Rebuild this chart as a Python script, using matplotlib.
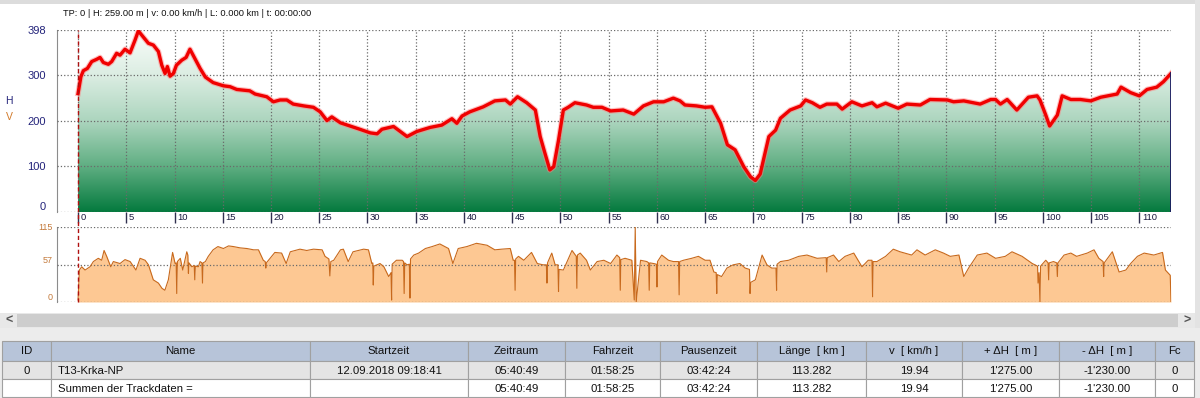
import numpy as np
import matplotlib
matplotlib.use("Agg")
from matplotlib import pyplot as plt
from matplotlib.colors import LinearSegmentedColormap
from matplotlib.patches import Rectangle, Polygon
from matplotlib.lines import Line2D
import matplotlib.transforms as mtransforms

plt.rcParams['font.family'] = ['Liberation Sans', 'DejaVu Sans']

# Hoehenprofil (km / m)
elev_km = [0, 0.3, 0.55, 0.97, 1.42, 1.94, 2.28, 2.62, 3.14, 3.49,
           4.0, 4.35, 4.87, 5.39, 5.91, 6.25, 6.6, 7.29, 7.81, 8.33,
           8.68, 9.02, 9.26, 9.54, 9.88, 10.2, 10.75, 11.2, 11.6, 12.1,
           12.65, 13.2, 14.0, 15.07, 15.76, 16.45, 17.8, 18.35, 19.56, 20.25,
           20.94, 21.64, 22.3, 23.4, 24.4, 25.1, 25.8, 26.3, 27.2, 28.2,
           29.2, 30.3, 31.0, 31.5, 32.7, 33.4, 34.1, 35.1, 36.5, 37.7,
           38.75, 39.26, 39.8, 40.6, 42.0, 43.2, 44.3, 44.8, 45.55, 46.5,
           47.4, 47.9, 48.4, 48.9, 49.3, 49.8, 50.3, 50.8, 51.5, 52.7,
           53.4, 54.3, 55.2, 56.5, 57.6, 58.6, 59.65, 60.7, 61.7, 62.4,
           62.9, 64.1, 65.0, 65.7, 66.6, 67.3, 68.1, 69.0, 69.7, 70.2,
           70.7, 71.2, 71.6, 72.3, 72.8, 73.8, 74.9, 75.4, 76.1, 76.9,
           77.6, 78.65, 79.2, 80.2, 81.25, 82.3, 82.8, 83.7, 85.0, 85.9,
           87.3, 88.3, 90.1, 90.75, 91.8, 93.5, 94.6, 95.1, 95.6, 96.3,
           97.3, 98.5, 99.4, 99.7, 100.3, 100.7, 101.5, 102.0, 102.9, 103.9,
           104.97, 106.0, 107.7, 108.1, 109.1, 110.0, 110.8, 111.8, 112.5, 113.28]
elev_h = [259, 296, 309, 314, 329, 334, 338, 327, 323, 329,
          347, 343, 356, 348, 376, 396, 387, 369, 365, 351,
          321, 303, 318, 297, 303, 321, 332, 338, 356, 336,
          314, 295, 283, 276, 274, 268, 265, 258, 252, 241,
          245, 245, 236, 232, 229, 219, 200, 208, 195, 188,
          181, 173, 171, 181, 187, 176, 165, 176, 185, 190,
          204, 194, 210, 219, 230, 243, 245, 236, 252, 239,
          223, 165, 128, 92, 99, 157, 223, 229, 239, 234,
          229, 229, 221, 223, 214, 232, 241, 241, 249, 243,
          234, 232, 229, 230, 194, 147, 136, 99, 77, 69,
          83, 128, 165, 179, 205, 223, 232, 245, 239, 229,
          236, 236, 225, 241, 232, 239, 230, 238, 227, 236,
          234, 246, 245, 241, 243, 236, 246, 246, 236, 246,
          223, 251, 254, 245, 212, 188, 212, 254, 246, 246,
          243, 251, 258, 273, 261, 254, 268, 273, 285, 303]

# Geschwindigkeit (km / km/h)
spd_km = [0.0, 0.14, 0.38, 0.73, 1.24, 1.59, 2.1, 2.45, 2.7, 2.97,
          3.39, 3.66, 4.35, 4.87, 5.4, 6.0, 6.43, 6.95, 7.3, 7.8,
          8.33, 8.7, 9.0, 9.36, 9.8, 10.06, 10.17, 10.23, 10.3, 10.6,
          10.85, 11.27, 11.38, 11.44, 11.5, 11.8, 12.04, 12.1, 12.16, 12.47,
          12.65, 12.84, 12.9, 12.96, 13.2, 13.5, 14.0, 14.5, 15.07, 15.6,
          16.1, 16.8, 17.5, 18.2, 18.7, 19.2, 19.4, 19.46, 19.52, 19.9,
          20.4, 21.1, 21.57, 22.0, 23.0, 23.7, 24.4, 25.3, 25.6, 26.0,
          26.1, 26.2, 26.5, 27.2, 27.5, 28.0, 28.5, 29.6, 30.1, 30.45,
          30.55, 30.6, 30.66, 30.97, 31.3, 31.7, 32.2, 32.44, 32.5, 32.56,
          33.0, 33.6, 33.74, 33.8, 33.86, 34.1, 34.34, 34.4, 34.46, 34.8,
          35.3, 36.0, 36.7, 37.5, 38.4, 38.85, 39.4, 40.3, 41.3, 42.4,
          43.2, 43.9, 44.8, 45.1, 45.24, 45.3, 45.36, 45.65, 46.2, 47.0,
          47.6, 48.2, 48.54, 48.6, 48.66, 49.1, 49.45, 49.74, 49.8, 49.86,
          50.3, 51.2, 51.64, 51.7, 51.76, 52.05, 52.7, 53.1, 53.8, 54.5,
          55.2, 55.85, 56.14, 56.2, 56.26, 56.7, 57.4, 57.65, 57.75, 57.85,
          58.3, 58.96, 59.14, 59.2, 59.26, 59.65, 59.94, 60.0, 60.06, 60.5,
          61.2, 61.7, 62.24, 62.3, 62.36, 62.75, 63.6, 64.3, 65.0, 65.5,
          65.9, 66.14, 66.2, 66.26, 66.7, 67.25, 67.9, 68.6, 69.15, 69.59,
          69.65, 69.71, 70.2, 70.9, 71.4, 71.9, 72.34, 72.4, 72.46, 72.8,
          73.65, 74.7, 75.55, 76.6, 77.54, 77.6, 77.66, 78.3, 78.85, 79.5,
          80.4, 81.25, 81.9, 82.29, 82.35, 82.41, 82.8, 83.7, 84.5, 85.2,
          86.4, 86.95, 87.8, 88.85, 89.7, 90.4, 91.3, 91.8, 92.3, 93.2,
          94.2, 95.1, 96.1, 96.8, 97.85, 98.9, 99.45, 99.5, 99.6, 99.7,
          99.76, 100.3, 100.54, 100.6, 100.66, 101.1, 101.44, 101.5, 101.56, 102.2,
          102.9, 103.5, 104.6, 105.3, 105.8, 106.24, 106.3, 106.36, 107.2, 107.9,
          108.6, 109.1, 109.8, 110.5, 111.5, 112.4, 112.7, 113.2, 113.28]
spd_v = [3, 49, 54, 49, 54, 62, 67, 64, 79, 70,
         54, 62, 59, 65, 62, 49, 67, 64, 57, 34,
         29, 21, 18, 34, 76, 59, 60, 13, 62, 67,
         49, 77, 72, 44, 60, 54, 56, 34, 55, 54,
         62, 60, 29, 60, 62, 70, 80, 85, 82, 86,
         85, 83, 82, 80, 80, 64, 62, 52, 60, 67,
         76, 75, 59, 77, 81, 79, 81, 80, 70, 66,
         40, 62, 64, 80, 81, 62, 77, 81, 80, 59,
         60, 26, 55, 57, 59, 54, 39, 45, 3, 58,
         64, 64, 62, 13, 60, 57, 58, 6, 66, 72,
         75, 82, 85, 89, 82, 59, 82, 85, 90, 87,
         80, 81, 82, 64, 64, 18, 66, 70, 64, 76,
         59, 57, 57, 29, 60, 75, 57, 57, 16, 50,
         49, 79, 70, 21, 72, 75, 64, 49, 62, 64,
         59, 72, 68, 18, 65, 67, 64, 3, 115, 0,
         64, 62, 60, 18, 60, 59, 58, 23, 62, 72,
         64, 62, 62, 11, 62, 64, 67, 70, 64, 64,
         46, 45, 13, 42, 39, 52, 57, 59, 52, 50,
         13, 30, 34, 72, 57, 52, 52, 18, 58, 62,
         64, 70, 72, 67, 68, 46, 68, 72, 62, 70,
         75, 54, 64, 64, 8, 62, 62, 70, 81, 77,
         72, 80, 72, 80, 75, 70, 72, 39, 52, 72,
         75, 67, 70, 77, 70, 59, 55, 29, 45, 0,
         55, 64, 60, 34, 60, 62, 60, 39, 60, 72,
         75, 70, 75, 80, 67, 62, 39, 60, 77, 46,
         49, 59, 70, 75, 72, 76, 49, 41, 0]

info_text = "TP: 0 | H: 259.00 m | v: 0.00 km/h | L: 0.000 km | t: 00:00:00"
h_ticks = [0, 100, 200, 300, 398]
v_ticks = [0, 57, 115]
km_ticks = list(range(0, 115, 5))

# Tabelle
columns = ["ID", "Name", "Startzeit", "Zeitraum", "Fahrzeit", "Pausenzeit",
           "Länge  [ km ]", "v  [ km/h ]", "+ ΔH  [ m ]", "- ΔH  [ m ]", "Fc"]
row_track = ["0", "T13-Krka-NP", "12.09.2018 09:18:41", "05:40:49", "01:58:25",
             "03:42:24", "113.282", "19.94", "1'275.00", "-1'230.00", "0"]
row_sum = ["", "Summen der Trackdaten =", "", "05:40:49", "01:58:25",
           "03:42:24", "113.282", "19.94", "1'275.00", "-1'230.00", "0"]

assert len(elev_km) == len(elev_h)
assert len(spd_km) == len(spd_v)

W, H = 1200, 398
fig = plt.figure(figsize=(W / 100, H / 100), dpi=100)
fig.patch.set_facecolor('white')

# Hintergrund / Fensterteile in Pixelkoordinaten
bg = fig.add_axes([0, 0, 1, 1], zorder=0)
bg.set_xlim(0, W)
bg.set_ylim(H, 0)
bg.axis('off')
bg.add_patch(Rectangle((0, 0), W, 4, color='#dcdcdc', lw=0))
bg.add_patch(Rectangle((1195, 0), 5, H, color='#e3e3e3', lw=0))
bg.add_patch(Rectangle((0, 313), 1195, 15, color='#e8e8e8', lw=0))
bg.add_patch(Rectangle((17, 314), 1161, 13, color='#cdcdcd', lw=0))
bg.text(9, 320.5, "<", ha='center', va='center', fontsize=9, color='#555555', fontweight='bold')
bg.text(1187, 320.5, ">", ha='center', va='center', fontsize=9, color='#555555', fontweight='bold')
bg.add_patch(Rectangle((0, 328), W, H - 328, color='#ececec', lw=0))

col_edges = [2, 51, 310, 468, 565, 660, 757, 866, 962, 1059, 1155, 1194]
row_edges = [341, 361, 379, 397]
row_colors = ['#b7c4d9', '#e4e4e4', '#ffffff']
for r, cells in enumerate([columns, row_track, row_sum]):
    y0, y1 = row_edges[r], row_edges[r + 1]
    for c, txt in enumerate(cells):
        x0, x1 = col_edges[c], col_edges[c + 1]
        bg.add_patch(Rectangle((x0, y0), x1 - x0, y1 - y0, facecolor=row_colors[r],
                               edgecolor='#a0a0a0', lw=0.8))
        if c == 1 and r > 0:
            bg.text(x0 + 7, (y0 + y1) / 2 + 0.5, txt, ha='left', va='center',
                    fontsize=8.2, color='#101010')
        else:
            bg.text((x0 + x1) / 2, (y0 + y1) / 2 + 0.5, txt, ha='center', va='center',
                    fontsize=8.2, color='#101010')

km_total = elev_km[-1]
x_left = -2.18

# Hoehenprofil
ax1 = fig.add_axes([57 / W, 186 / H, 1114 / W, 182 / H], zorder=2)
ax1.set_facecolor('none')
ax1.set_xlim(x_left, km_total)
ax1.set_ylim(0, 398)

cmap = LinearSegmentedColormap.from_list(
    'hoehe', [(0, '#047a3e'), (0.25, '#5fae82'), (0.5, '#acd5be'), (0.75, '#dbede2'), (1, '#fafdfb')])
grad = np.linspace(0, 1, 256).reshape(-1, 1)
im = ax1.imshow(grad, extent=[0, km_total, 0, 398], origin='lower', cmap=cmap,
                aspect='auto', zorder=1)
verts = [(0, 0)] + list(zip(elev_km, elev_h)) + [(km_total, 0)]
clip = Polygon(verts, closed=True, facecolor='none', edgecolor='none', transform=ax1.transData)
ax1.add_patch(clip)
im.set_clip_path(clip)

ax1.plot(elev_km, elev_h, color='#ff8080', lw=4.0, alpha=0.5, zorder=4, solid_joinstyle='round')
ax1.plot(elev_km, elev_h, color='#f00000', lw=2.4, zorder=5, solid_joinstyle='round')
ax1.plot([km_total, km_total], [0, elev_h[-1]], color='#1a1a60', lw=1.3, zorder=5)

ax1.set_xticks(km_ticks)
ax1.set_yticks(h_ticks)
ax1.grid(True, ls=':', color='#6a6a6a', lw=0.9)
ax1.set_axisbelow(False)
ax1.tick_params(axis='x', direction='out', length=8, width=1, color='#303050', labelbottom=False)
ax1.tick_params(axis='y', length=0, pad=8, labelsize=8, labelcolor='#23237a')
for lab in ax1.get_yticklabels():
    if lab.get_text() == '0':
        lab.set_va('bottom')
for s in ['top', 'right', 'bottom']:
    ax1.spines[s].set_visible(False)
ax1.spines['left'].set_color('#8c8c8c')

lab_trans = mtransforms.offset_copy(
    mtransforms.blended_transform_factory(ax1.transData, ax1.transAxes), fig=fig, x=2.5, y=-1.5, units='dots')
for k in km_ticks:
    ax1.text(k, 0, str(k), transform=lab_trans, ha='left', va='top', fontsize=6.8, color='#1a1a40')

# Geschwindigkeit
ax2 = fig.add_axes([57 / W, 96 / H, 1114 / W, 75 / H], zorder=2)
ax2.set_facecolor('none')
ax2.set_xlim(x_left, km_total)
ax2.set_ylim(0, 115)
ax2.fill_between(spd_km, spd_v, 0, color='#fdc893', lw=0, zorder=1)
ax2.plot(spd_km, spd_v, color='#c8691c', lw=0.8, zorder=4)
ax2.set_xticks([])
ax2.set_yticks(v_ticks)
ax2.grid(True, axis='y', ls=':', color='#6a6a6a', lw=0.9)
ax2.set_axisbelow(False)
ax2.tick_params(axis='y', length=0, pad=3, labelsize=6.5, labelcolor='#c47a3c')
for lab in ax2.get_yticklabels():
    if lab.get_text() in ('0', '57'):
        lab.set_va('bottom')
for s in ['top', 'right', 'bottom']:
    ax2.spines[s].set_visible(False)
ax2.spines['left'].set_color('#8c8c8c')

# rote Positionsmarke bei km 0
p1 = ax1.get_position()
p2 = ax2.get_position()
mark_trans = mtransforms.blended_transform_factory(ax1.transData, fig.transFigure)
fig.add_artist(Line2D([0, 0], [p2.y0, p1.y1], transform=mark_trans, color='#b01010',
                      ls=(0, (3, 2)), lw=1.0, zorder=6))

fig.text(9 / W, 1 - 101 / H, "H", ha='center', va='center', fontsize=7.5, color='#23237a')
fig.text(9 / W, 1 - 117 / H, "V", ha='center', va='center', fontsize=7.5, color='#d27a2a')
fig.text(63 / W, 1 - 13 / H, info_text, ha='left', va='center', fontsize=6.7, color='#101010')

fig.savefig('out.png', dpi=100)
